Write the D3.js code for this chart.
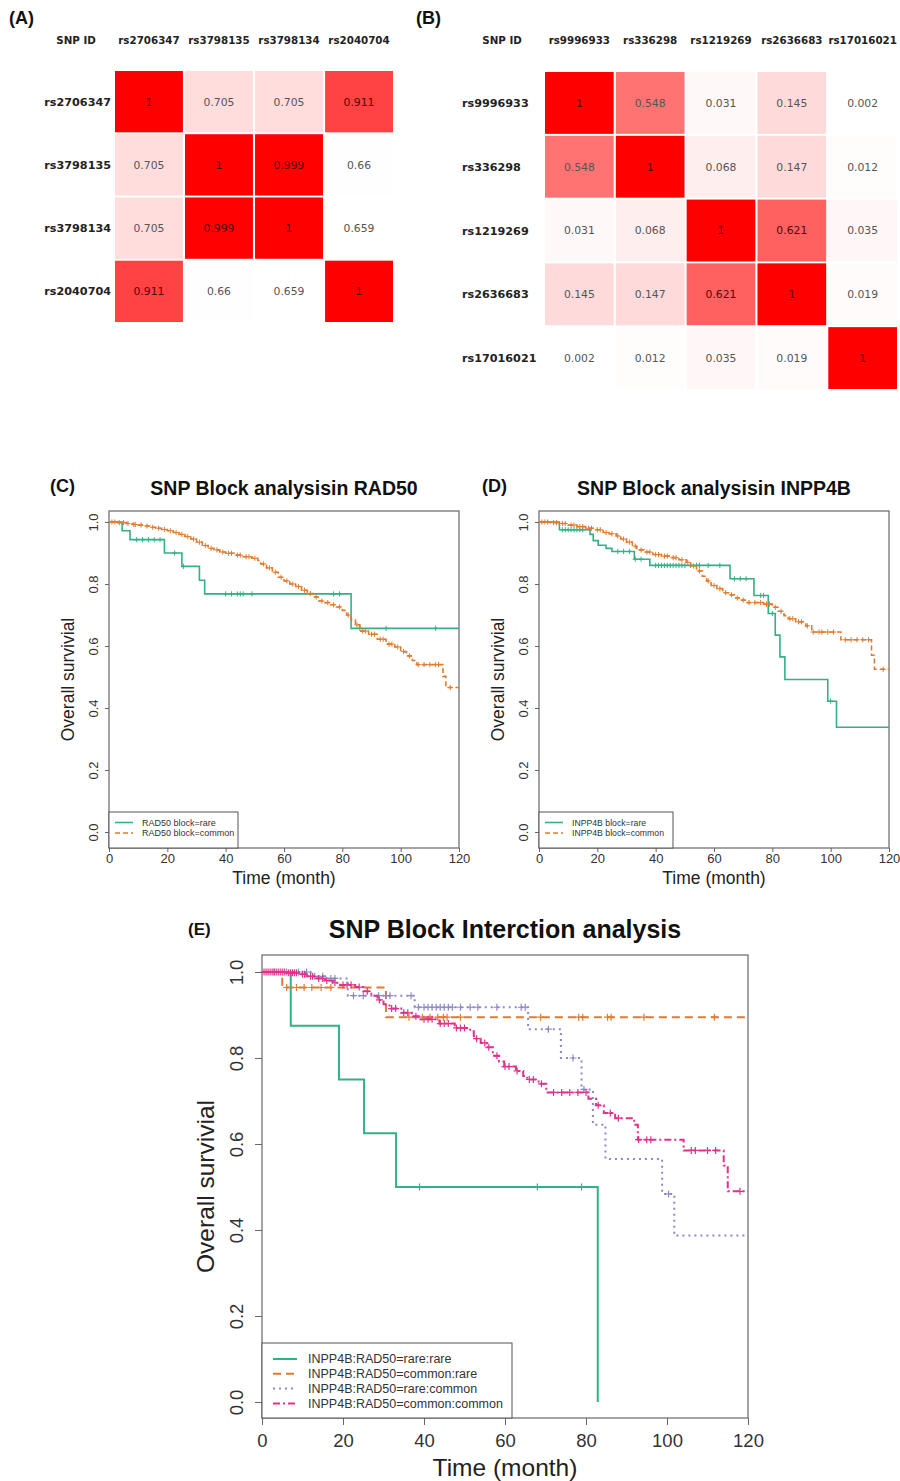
<!DOCTYPE html>
<html><head><meta charset="utf-8">
<script src="https://cdn.jsdelivr.net/npm/d3@7"></script>
<style>body{margin:0;background:#fff} svg{display:block}</style>
</head><body>
<svg id="fig" width="900" height="1481"></svg>
<script>
// ---------------- DATA ----------------
const snpsA = ["rs2706347","rs3798135","rs3798134","rs2040704"];
const ldA = [
  [1, 0.705, 0.705, 0.911],
  [0.705, 1, 0.999, 0.66],
  [0.705, 0.999, 1, 0.659],
  [0.911, 0.66, 0.659, 1]
];
const snpsB = ["rs9996933","rs336298","rs1219269","rs2636683","rs17016021"];
const ldB = [
  [1, 0.548, 0.031, 0.145, 0.002],
  [0.548, 1, 0.068, 0.147, 0.012],
  [0.031, 0.068, 1, 0.621, 0.035],
  [0.145, 0.147, 0.621, 1, 0.019],
  [0.002, 0.012, 0.035, 0.019, 1]
];
const timeTicks = [0, 20, 40, 60, 80, 100, 120];
const survTicks = [0, 0.2, 0.4, 0.6, 0.8, 1.0];

// Panel C: RAD50
const rad50RareSteps = [[0,1],[4.5,0.972],[7.2,0.943],[19,0.90],[25,0.857],[31,0.812],[32.8,0.768],[83,0.657]];
const rad50RareEnd = 120;
const rad50RareCensor = [9.5,11.5,13.5,15.5,17.5,22.5,25.5,40,42,44,45,46,49,77,79,86,95,112];
const rad50CommonSteps = [[0,1],[3,0.998],[6,0.995],[8,0.992],[10,0.99],[12,0.987],[14,0.983],[16,0.98],[18,0.976],[20,0.972],[22,0.966],[24,0.96],[26,0.953],[28,0.945],[30,0.935],[32,0.924],[34,0.915],[36,0.91],[38,0.903],[40,0.899],[43,0.893],[46,0.888],[49,0.883],[51,0.876],[52,0.865],[54,0.852],[56,0.838],[58,0.822],[60,0.81],[62,0.80],[64,0.792],[66,0.78],[68,0.769],[70,0.758],[72,0.745],[74,0.74],[76,0.733],[78,0.726],[80,0.715],[81.5,0.70],[83,0.685],[84.5,0.668],[86,0.648],[89,0.638],[92,0.622],[95,0.606],[98,0.597],[100,0.582],[102,0.568],[104,0.553],[105.5,0.54],[114.5,0.502],[115.5,0.466]];
const rad50CommonEnd = 120;
const rad50CommonCensor = [1,2,3.5,5,6.5,8.5,9,11,13,15,17,19,21,23,25,27,29,31,33,35,37,39,41,42,44,45,47,48,50,53,55,57,59,61,63,65,67,69,71,73,75,77,79,82,85,87,88,90,91,93,94,96,97,99,101,103,106,108,110,112,113,117];

// Panel D: INPP4B
const inppRareSteps = [[0,1],[7,0.975],[17.5,0.96],[18.6,0.94],[20.3,0.925],[23,0.915],[25,0.905],[32.7,0.88],[38,0.86],[65.5,0.817],[73.7,0.763],[78.6,0.705],[81,0.635],[82.6,0.565],[84.3,0.492],[99,0.422],[102,0.338]];
const inppRareEnd = 120;
const inppRareCensor = [8,9,10,11,12,13,14,15,27,29,31,33,35,40,41,42,43,44,45,46,47,48,49,50,52,54,55,58,62,67,69,71,76,77,80,100];
const inppCommonSteps = [[0,1],[4,0.998],[7,0.995],[10,0.99],[13,0.985],[16,0.98],[19,0.975],[22,0.966],[24,0.962],[26.5,0.955],[28,0.945],[30,0.935],[32,0.922],[33.5,0.91],[36,0.903],[39,0.895],[42,0.89],[45,0.885],[48,0.878],[50.5,0.87],[52,0.858],[54,0.842],[56,0.825],[57.5,0.81],[59,0.795],[61,0.785],[63,0.772],[65,0.765],[67.5,0.755],[69.5,0.748],[71,0.74],[77,0.735],[80,0.725],[82,0.712],[84,0.698],[85.5,0.688],[88,0.678],[91.5,0.665],[93.5,0.645],[103.5,0.62],[114,0.57],[115,0.525]];
const inppCommonEnd = 120;
const inppCommonCensor = [1,2,3,5,6,8,9,11,12,14,15,17,18,20,21,23,25,27,29,31,33,35,37,38,40,41,43,44,46,47,49,51,53,55,58,60,62,64,66,68,70,72,74,76,78,79,81,83,86,87,89,90,92,94,96,97,99,101,105,107,109,111,113,118];

// Panel E: interaction
const rrSteps = [[0,1],[7.1,0.875],[19,0.75],[25.2,0.625],[33.1,0.5],[82.9,0]];
const rrEnd = 82.9;
const rrCensor = [38.9,68,78.9];
const crSteps = [[0,1],[5,0.964],[30.6,0.895]];
const crEnd = 120;
const crCensor = [6.1,8.5,10.4,12.3,14.6,17,36.3,39.6,41.5,43.4,44.8,45.7,49,68.8,78.2,79.2,85.3,86.2,94.3,111.7];
const rcSteps = [[0,1],[12,0.99],[16,0.985],[21.2,0.945],[37.7,0.918],[65.7,0.867],[73.8,0.80],[78.9,0.727],[81.7,0.645],[84.8,0.565],[98.8,0.484],[101.8,0.387]];
const rcEnd = 120;
const rcCensor = [3,6,9,11,13,15,17,18,22.6,25,28.8,30.6,31.6,36.8,38.6,40,41,42,43,44,45,46,47,49,51.4,53.3,58,64,65,70.7,76.8,79.5,100.4];
const ccSteps = [[0,1],[6,0.998],[9,0.995],[11,0.99],[13.5,0.985],[15.6,0.98],[17.5,0.975],[19.3,0.97],[23,0.965],[25,0.955],[27,0.945],[28.5,0.935],[30,0.925],[31.5,0.915],[34.4,0.905],[37,0.897],[39.1,0.89],[43.8,0.88],[47.6,0.87],[51.4,0.862],[52.3,0.845],[54,0.835],[55.5,0.825],[57,0.805],[58.5,0.792],[59.8,0.78],[62.7,0.77],[64.5,0.758],[65.5,0.75],[68.3,0.74],[70.2,0.72],[80.6,0.705],[82.5,0.69],[84.4,0.672],[87.2,0.66],[91.9,0.645],[92.8,0.61],[104.1,0.585],[114,0.55],[115,0.49]];
const ccEnd = 120;
const ccCensor = [0.5,1,1.5,2,2.5,3,3.5,4,4.5,5,5.5,6.5,7,7.5,8,8.5,10,10.5,12,12.5,14,15,16,18,20,21,22,24,26,29,32,33,35,36,38,40,41,42,44,45,46,48,49,50,53,55,56,58,60,61,63,66,67,69,72,74,76,78,80,83,86,88,93,95,96,106,107,110,112,118];

// ---------------- DRAWING ----------------
const svg = d3.select("#fig");
const GREEN = "#33b088", ORANGE = "#e07b2f", PURPLE = "#8d89c4", PINK = "#e0328c";
const HFONT = "DejaVu Sans, sans-serif";
const AFONT = "Liberation Sans, Arial, sans-serif";

function heatmap(snps, ld, o) {
  const g = svg.append("g");
  const x = d3.scaleBand().domain(snps).range([o.x0, o.x1]).paddingInner(0.03);
  const y = d3.scaleBand().domain(snps).range([o.y0, o.y1]).paddingInner(0.03);
  const flat = ld.flat();
  const lo = d3.min(flat), hi = d3.max(flat);
  const col = d3.scaleLinear().domain([lo, hi]).range(["#ffffff", "#ff0000"]);
  const cells = [];
  ld.forEach((row, i) => row.forEach((v, j) => cells.push({r: snps[i], c: snps[j], v})));
  g.selectAll("rect.cell").data(cells).join("rect").attr("class","cell")
    .attr("x", d => x(d.c)).attr("y", d => y(d.r))
    .attr("width", x.bandwidth()).attr("height", y.bandwidth())
    .attr("fill", d => col(d.v));
  g.selectAll("text.val").data(cells).join("text").attr("class","val")
    .attr("x", d => x(d.c) + x.bandwidth()/2).attr("y", d => y(d.r) + y.bandwidth()/2)
    .attr("dy", "0.36em").attr("text-anchor", "middle")
    .attr("font-family", HFONT).attr("font-size", 10.8)
    .attr("fill", d => (d.v - lo)/(hi - lo) > 0.6 ? "#4a0a0a" : "#555")
    .text(d => String(d.v));
  g.selectAll("text.colh").data(snps).join("text").attr("class","colh")
    .attr("x", d => x(d) + x.bandwidth()/2).attr("y", o.headY)
    .attr("dy", "0.36em").attr("text-anchor", "middle")
    .attr("font-family", HFONT).attr("font-weight", "bold").attr("font-size", 10.3)
    .attr("fill", "#222").text(d => d);
  g.append("text").attr("x", o.snpIdX).attr("y", o.headY).attr("dy", "0.36em")
    .attr("text-anchor", "middle").attr("font-family", HFONT).attr("font-weight", "bold")
    .attr("font-size", 10.3).attr("fill", "#222").text("SNP ID");
  g.selectAll("text.rowh").data(snps).join("text").attr("class","rowh")
    .attr("x", o.rowX).attr("y", d => y(d) + y.bandwidth()/2)
    .attr("dy", "0.36em").attr("text-anchor", o.rowAnchor)
    .attr("font-family", HFONT).attr("font-weight", "bold").attr("font-size", 11.2)
    .attr("fill", "#222").text(d => d);
  g.append("text").attr("x", o.labX).attr("y", 24).attr("font-family", AFONT)
    .attr("font-weight", "bold").attr("font-size", 18).attr("fill", "#111").text(o.label);
}

heatmap(snpsA, ldA, {x0:115, x1:393, y0:71, y1:322, headY:40, snpIdX:76, rowX:111, rowAnchor:"end", labX:9, label:"(A)"});
heatmap(snpsB, ldB, {x0:545, x1:897, y0:72, y1:389, headY:40, snpIdX:502, rowX:462, rowAnchor:"start", labX:416, label:"(B)"});

function survAt(steps, t) {
  let s = steps[0][1];
  for (const p of steps) { if (p[0] <= t) s = p[1]; }
  return s;
}

function km(o) {
  const g = svg.append("g");
  const x = d3.scaleLinear().domain([0, 120]).range([o.left, o.right]);
  const y = d3.scaleLinear().domain([0, 1]).range([o.y0px, o.y1px]);
  // axes
  const xa = d3.axisBottom(x).tickValues(timeTicks).tickSize(o.tick).tickSizeOuter(0).tickPadding(o.xpad).tickFormat(d3.format("d"));
  const xg = g.append("g").attr("transform", `translate(0,${o.bottom})`).call(xa);
  xg.select(".domain").remove();
  xg.selectAll(".tick line").attr("stroke", "#666");
  xg.selectAll(".tick text").attr("font-family", AFONT).attr("font-size", o.tickFs).attr("fill", "#333");
  const ya = d3.axisLeft(y).tickValues(survTicks).tickSize(o.tick).tickSizeOuter(0).tickFormat(d3.format(".1f"));
  const yg = g.append("g").attr("transform", `translate(${o.left},0)`).call(ya);
  yg.select(".domain").remove();
  yg.selectAll(".tick line").attr("stroke", "#666");
  yg.selectAll(".tick text").attr("x", 0).attr("y", 0).attr("dy", "0.36em")
    .attr("text-anchor", "middle").attr("transform", `translate(${-o.ylabOff},0) rotate(-90)`)
    .attr("font-family", AFONT).attr("font-size", o.tickFs).attr("fill", "#333");
  // box
  g.append("rect").attr("x", o.left).attr("y", o.top).attr("width", o.right - o.left)
    .attr("height", o.bottom - o.top).attr("fill", "none").attr("stroke", "#666").attr("stroke-width", 1.2);
  // curves
  const line = d3.line().x(d => x(d[0])).y(d => y(d[1])).curve(d3.curveStepAfter);
  o.series.forEach(s => {
    const pts = s.steps.concat([[s.end, s.steps[s.steps.length-1][1]]]);
    g.append("path").attr("d", line(pts)).attr("fill", "none").attr("stroke", s.color)
      .attr("stroke-width", o.lw).attr("stroke-dasharray", s.dash || null);
    const h = o.cs;
    g.selectAll(null).data(s.censor).join("path")
      .attr("transform", t => `translate(${x(t)},${y(survAt(s.steps, t))})`)
      .attr("d", `M${-h},0H${h}M0,${-h}V${h}`)
      .attr("stroke", s.color).attr("stroke-width", o.cw).attr("fill", "none");
  });
  // legend
  const L = o.legend;
  g.append("rect").attr("x", o.left).attr("y", L.top).attr("width", L.right - o.left)
    .attr("height", o.bottom - L.top).attr("fill", "#fff").attr("stroke", "#555").attr("stroke-width", 1);
  o.series.forEach((s, i) => {
    const yy = L.y0 + i * L.dy;
    g.append("line").attr("x1", L.sx0).attr("x2", L.sx1).attr("y1", yy).attr("y2", yy)
      .attr("stroke", s.color).attr("stroke-width", o.lw).attr("stroke-dasharray", s.dash || null);
    g.append("text").attr("x", L.tx).attr("y", yy).attr("dy", "0.35em")
      .attr("font-family", AFONT).attr("font-size", L.fs).attr("fill", "#333").text(s.name);
  });
  // titles
  const cx = (o.left + o.right) / 2;
  g.append("text").attr("x", cx).attr("y", o.titleY).attr("text-anchor", "middle")
    .attr("font-family", AFONT).attr("font-weight", "bold").attr("font-size", o.titleFs)
    .attr("fill", "#111").text(o.title);
  g.append("text").attr("x", cx).attr("y", o.xtitleY).attr("text-anchor", "middle")
    .attr("font-family", AFONT).attr("font-size", o.axFs).attr("fill", "#222").text("Time (month)");
  g.append("text").attr("transform", `translate(${o.ytitleX},${(o.top + o.bottom)/2}) rotate(-90)`)
    .attr("dy", "0.36em").attr("text-anchor", "middle")
    .attr("font-family", AFONT).attr("font-size", o.axFs).attr("fill", "#222").text("Overall survivial");
  g.append("text").attr("x", o.labX).attr("y", o.labY).attr("font-family", AFONT)
    .attr("font-weight", "bold").attr("font-size", o.labFs).attr("fill", "#111").text(o.label);
}

const smallCfg = {top:511, bottom:848, y0px:832, y1px:522, tick:4, xpad:2, tickFs:13, ylabOff:16,
  lw:1.6, cs:2.6, cw:1, titleY:495, titleFs:19.5, xtitleY:884, axFs:17.5, labY:492, labFs:18};

km(Object.assign({}, smallCfg, {
  left:109, right:459, ytitleX:68, labX:50, label:"(C)", title:"SNP Block analysisin RAD50",
  legend:{top:812, right:238, y0:822.5, dy:10.5, sx0:115, sx1:133, tx:142, fs:9},
  series:[
    {name:"RAD50 block=rare", steps:rad50RareSteps, end:rad50RareEnd, censor:rad50RareCensor, color:GREEN},
    {name:"RAD50 block=common", steps:rad50CommonSteps, end:rad50CommonEnd, censor:rad50CommonCensor, color:ORANGE, dash:"5,3"}
  ]
}));

km(Object.assign({}, smallCfg, {
  left:539, right:889, ytitleX:498, labX:482, label:"(D)", title:"SNP Block analysisin INPP4B",
  legend:{top:812, right:673, y0:822.5, dy:10.5, sx0:545, sx1:563, tx:572, fs:8.7},
  series:[
    {name:"INPP4B block=rare", steps:inppRareSteps, end:inppRareEnd, censor:inppRareCensor, color:GREEN},
    {name:"INPP4B block=common", steps:inppCommonSteps, end:inppCommonEnd, censor:inppCommonCensor, color:ORANGE, dash:"5,3"}
  ]
}));

km({
  left:262, right:748, top:955, bottom:1418, y0px:1402, y1px:972, tick:7, xpad:9, tickFs:18.5, ylabOff:26,
  lw:2, cs:3.5, cw:1.2, titleY:938, titleFs:25, xtitleY:1476, axFs:24.5, ytitleX:205,
  labX:188, labY:935, labFs:17, label:"(E)", title:"SNP Block Interction analysis",
  legend:{top:1343, right:512, y0:1359, dy:14.8, sx0:273, sx1:297, tx:308, fs:12.5},
  series:[
    {name:"INPP4B:RAD50=rare:rare", steps:rrSteps, end:rrEnd, censor:rrCensor, color:GREEN},
    {name:"INPP4B:RAD50=common:rare", steps:crSteps, end:crEnd, censor:crCensor, color:ORANGE, dash:"8,5"},
    {name:"INPP4B:RAD50=rare:common", steps:rcSteps, end:rcEnd, censor:rcCensor, color:PURPLE, dash:"2,4"},
    {name:"INPP4B:RAD50=common:common", steps:ccSteps, end:ccEnd, censor:ccCensor, color:PINK, dash:"7,3,2,3"}
  ]
});
</script>
</body></html>
